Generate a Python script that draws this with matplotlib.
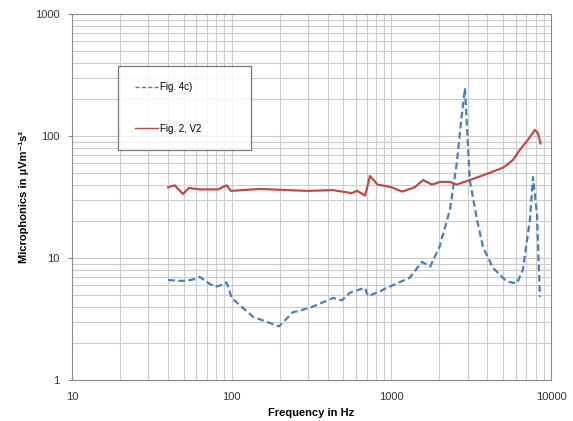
import matplotlib
matplotlib.use('Agg')
import matplotlib.pyplot as plt
from matplotlib.ticker import FixedLocator, LogLocator, NullFormatter

plt.rcParams['font.family'] = ['Liberation Sans', 'DejaVu Sans']

# Fig. 4c) - dashed blue
blue_f = [40, 47, 52, 58, 63, 72, 79, 86, 93, 100, 136, 198, 242, 268, 323, 431,
          491, 551, 683, 713, 848, 885, 1305, 1555, 1750, 2010, 2330, 2570, 2770,
          2890, 3100, 3440, 3750, 4330, 5290, 6110, 6660, 7380, 7710, 8170, 8520]
blue_v = [6.6, 6.5, 6.5, 6.7, 7.0, 6.2, 5.8, 6.0, 6.3, 4.7, 3.3, 2.75, 3.6, 3.7,
          4.0, 4.7, 4.5, 5.2, 5.7, 4.9, 5.3, 5.5, 6.9, 9.3, 8.5, 12.5, 25, 60, 154,
          247, 43.5, 20.6, 12.3, 8.3, 6.4, 6.2, 8.0, 20.6, 46, 23, 4.8]

# Fig. 2, V2 - solid red
red_f = [40, 44, 49.5, 54, 63, 82, 93, 99, 150, 297, 430, 565, 610, 685, 735, 820,
         1000, 1170, 1400, 1580, 1800, 2010, 2330, 2570, 3100, 4150, 5000, 5300,
         5800, 6380, 7170, 7930, 8300, 8600]
red_v = [38, 39.4, 33.5, 37.5, 36.5, 36.5, 39.4, 35.5, 36.8, 35.5, 36, 34, 35.5,
         32.5, 47, 40, 38, 35, 38, 43.5, 40, 42, 42, 40, 43.5, 50, 55, 58, 64, 77,
         93, 112, 105, 87]

fig = plt.figure(figsize=(5.73, 4.21), dpi=100)
ax = fig.add_axes([72 / 573, 1 - 380 / 421, 479 / 573, 366 / 421])

ax.plot(blue_f, blue_v, color='#4a7ebb', lw=1.6, ls=(0, (3, 1.6)), label='Fig. 4c)')
ax.plot(red_f, red_v, color='#be4b48', lw=1.6, label='Fig. 2, V2')

ax.set_xscale('log')
ax.set_yscale('log')
ax.set_xlim(10, 10000)
ax.set_ylim(1, 1000)

ax.xaxis.set_major_locator(FixedLocator([10, 100, 1000, 10000]))
ax.yaxis.set_major_locator(FixedLocator([1, 10, 100, 1000]))
ax.set_xticklabels(['10', '100', '1000', '10000'])
ax.set_yticklabels(['1', '10', '100', '1000'])
for axis in (ax.xaxis, ax.yaxis):
    axis.set_minor_locator(LogLocator(base=10, subs=range(2, 10)))
    axis.set_minor_formatter(NullFormatter())

ax.grid(True, which='both', color='#cccccc', lw=0.8)
ax.set_axisbelow(True)
ax.tick_params(which='both', length=0, labelsize=8, colors='#333333', pad=6)
ax.tick_params(axis='x', pad=9)
ax.tick_params(axis='y', which='major', length=3, color='#888888')
for s in ax.spines.values():
    s.set_color('#8c8c8c')

ax.set_xlabel('Frequency in Hz', fontsize=8, fontweight='bold', labelpad=4)
ax.set_ylabel('Microphonics in µVm⁻¹s²', fontsize=8, fontweight='bold', labelpad=4)

leg = ax.legend(loc='upper left', bbox_to_anchor=(0.096, 0.858, 0.278, 0.0), mode='expand',
                fontsize=7, frameon=True, fancybox=False, labelspacing=3.2,
                borderpad=1.7, handlelength=2.4, handletextpad=0.2, borderaxespad=0)
leg.get_frame().set_edgecolor('#555555')
leg.get_frame().set_linewidth(0.9)
for h in leg.get_lines():
    h.set_linewidth(1.0)

fig.savefig('out.png', dpi=100)
